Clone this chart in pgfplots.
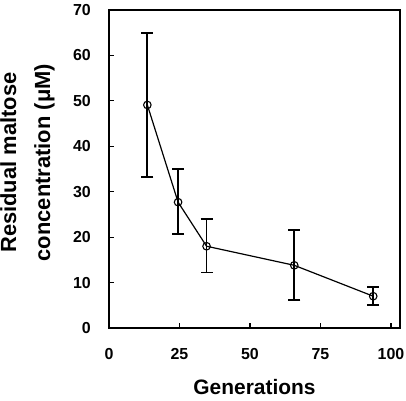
\documentclass[border=0pt]{standalone}
\usepackage{fontspec}
\setmainfont{Liberation Sans}
\usepackage{pgfplots}
\pgfplotsset{compat=1.18}
\pgfplotstableread{
x     y     ep    em
13.6  49.1  15.9  15.8
24.5  27.7  7.3   7.0
34.6  18.0  6.0   5.8
65.7  13.8  7.8   7.7
93.7  7.0   2.0   2.0
}\datatable
\begin{document}
\begin{tikzpicture}
\begin{axis}[
  scale only axis,
  width=291bp, height=318bp,
  xmin=0, xmax=103.2, ymin=0, ymax=70,
  xtick={0,25,50,75,100}, ytick={0,10,...,70},
  tick pos=left, tick align=inside,
  major tick length=5bp,
  axis line style={line width=1.6pt},
  tick style={line width=1.2pt, black},
  /pgf/number format/assume math mode=true,
  ticklabel style={font=\bfseries\fontsize{16}{16}\selectfont, inner sep=0pt},
  xticklabel style={yshift=-20bp},
  yticklabel style={xshift=-18bp},
  xlabel={Generations},
  ylabel={Residual maltose\\concentration (μM)},
  xlabel style={at={(rel axis cs:0.5,-0.187)}, anchor=center, inner sep=0pt, font=\bfseries\fontsize{21}{21}\selectfont},
  ylabel style={at={(rel axis cs:-0.28,0.52)}, anchor=center, align=center, inner sep=0pt, font=\bfseries\fontsize{22}{34}\selectfont},
]
\addplot[black, line width=1.2pt, mark=o, mark size=3.8pt, mark options={line width=1.1pt, fill=none},
  error bars/.cd, y dir=both, y explicit, error bar style={line width=1.8pt}, error mark options={rotate=90, mark size=6bp, line width=1.8pt}]
table[x=x, y=y, y error plus=ep, y error minus=em] {\datatable};
\end{axis}
\path (-109bp,-73bp) rectangle (297bp,328bp);
\end{tikzpicture}
\end{document}
